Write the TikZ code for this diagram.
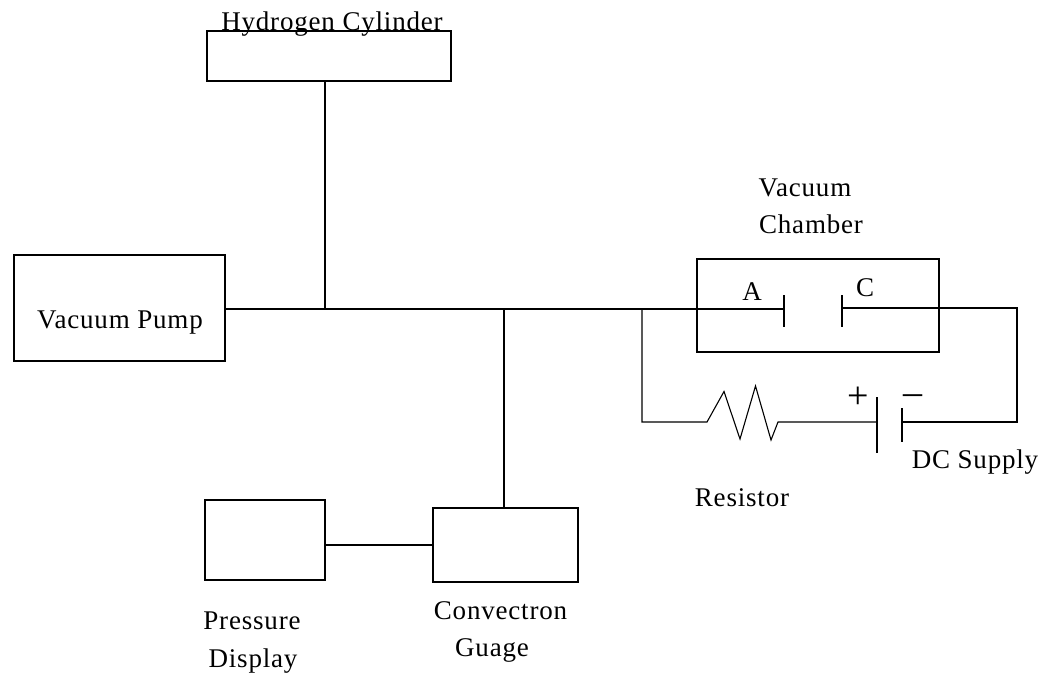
\documentclass[tikz,border=0pt]{standalone}
\usepackage{fontspec}
\setmainfont{Liberation Serif}[LetterSpace=3]
\usetikzlibrary{calc}
\tikzset{
  unitbox/.style={draw,line width=1.1pt,minimum width=#1,inner sep=0pt},
  unitbox/.default=1cm,
  pipe/.style={line width=1.1pt},
  tag/.style={font=\fontsize{27}{30}\selectfont,anchor=base,inner sep=0pt},
  polarity/.style={font=\fontsize{38}{40}\selectfont,anchor=base,inner sep=0pt}
}
\begin{document}
\begin{tikzpicture}[x=1pt,y=-1pt,pipe]
\useasboundingbox (0,0) rectangle (1047,675);

\node[unitbox=244pt,minimum height=50pt] (cylinder) at (329,56) {};
\node[unitbox=211pt,minimum height=106pt] (pump) at (119.5,308) {};
\node[unitbox=242pt,minimum height=93pt] (chamber) at (818,305.5) {};
\node[unitbox=120pt,minimum height=80pt] (display) at (265,540) {};
\node[unitbox=145pt,minimum height=74pt] (gauge) at (505.5,545) {};

\coordinate (tee1) at (325,309);
\coordinate (tee2) at (504,309);
\coordinate (tee3) at (642,309);
\coordinate (plateA) at (784,309);
\coordinate (plateC) at (842,308);
\coordinate (right1) at (1017,308);
\coordinate (right2) at (1017,422);
\coordinate (left2) at (642,422);
\coordinate (resL) at (707,422);
\coordinate (resR) at (778,422);
\coordinate (batP) at (877,422);
\coordinate (batN) at (902,422);

% tubes
\draw (pump.east |- tee1) -- (plateA);
\draw (cylinder.south -| tee1) -- (tee1);
\draw (tee2) -- (gauge.north -| tee2);
\draw (display.east |- gauge.west) -- (gauge.west);

% circuit
\draw (plateA |- 0,295) -- (plateA |- 0,327);
\draw (plateC |- 0,295) -- (plateC |- 0,327);
\draw (plateC) -- (right1) -- (right2) -- (batN);
\draw (tee3) -- (left2) -- (resL) -- (724,391.5) -- (740,439) -- (755.5,386) -- (771,440) -- (resR) -- (batP);
\draw (batP |- 0,397) -- (batP |- 0,453);
\draw (batN |- 0,408) -- (batN |- 0,442);

% labels
\node[tag] (lblcyl) at (332,30) {Hydrogen Cylinder};
\node[tag] (lblpump) at (120,328) {Vacuum Pump};
\node[tag] (lblvacuum) at (805,196) {Vacuum};
\node[tag] (lblchamber) at (811,233) {Chamber};
\node[tag] (lblA) at (752,300) {A};
\node[tag] (lblC) at (865,296) {C};
\node[polarity] (lblplus) at (858,408) {+};
\node[polarity] (lblminus) at (913,404) {--};
\node[tag] (lblsupply) at (975,468) {DC Supply};
\node[tag] (lblres) at (742,506) {Resistor};
\node[tag] (lblpressure) at (252,629) {Pressure};
\node[tag] (lbldisplay) at (253,667) {Display};
\node[tag] (lblconv) at (500.5,619) {Convectron};
\node[tag] (lblguage) at (492,656) {Guage};
\end{tikzpicture}
\end{document}
